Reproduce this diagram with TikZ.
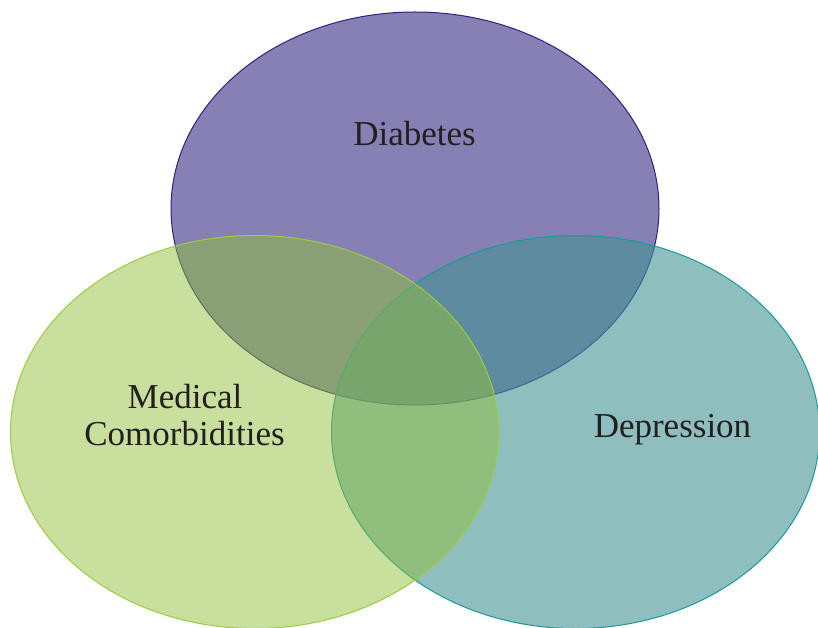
\documentclass[tikz,border=0pt]{standalone}
\usepackage{fontspec}
\setmainfont{Liberation Serif}
\usetikzlibrary{shapes.geometric}
\definecolor{diabfill}{RGB}{53,43,130}
\definecolor{diabline}{RGB}{40,38,130}
\definecolor{deprfill}{RGB}{68,147,148}
\definecolor{deprline}{RGB}{20,155,155}
\definecolor{medfill}{RGB}{145,191,59}
\definecolor{medline}{RGB}{155,205,60}
\definecolor{labeltext}{RGB}{35,31,32}
\begin{document}
\begin{tikzpicture}[
        x=1pt, y=-1pt,
        font=\fontsize{35}{37}\selectfont,
        text=labeltext
    ]
    \tikzset{
        setellipse/.style = {ellipse, inner sep=0pt, minimum width=488pt, minimum height=393pt, fill opacity=0.6, line width=1pt},
        setlabel/.style = {align=center, inner sep=0pt, anchor=base},
    }
    \useasboundingbox (0,0) rectangle (818,628);
    \node[setellipse, draw=diabline, fill=diabfill] (diabetes) at (415,208.5) {};
    \node[setellipse, draw=deprline, fill=deprfill] (depression) at (575.5,432) {};
    \node[setellipse, draw=medline, fill=medfill, fill opacity=0.5] (medical) at (254.5,432) {};
    \node[setlabel] (diablabel) at (415,146) {Diabetes{\fontsize{4}{4}\selectfont.}};
    \node[setlabel, anchor=center] (medlabel) at (185,415) {Medical\\Comorbidities{\fontsize{4}{4}\selectfont.}};
    \node[setlabel] (deprlabel) at (672.5,437) {Depression};
\end{tikzpicture}
\end{document}
